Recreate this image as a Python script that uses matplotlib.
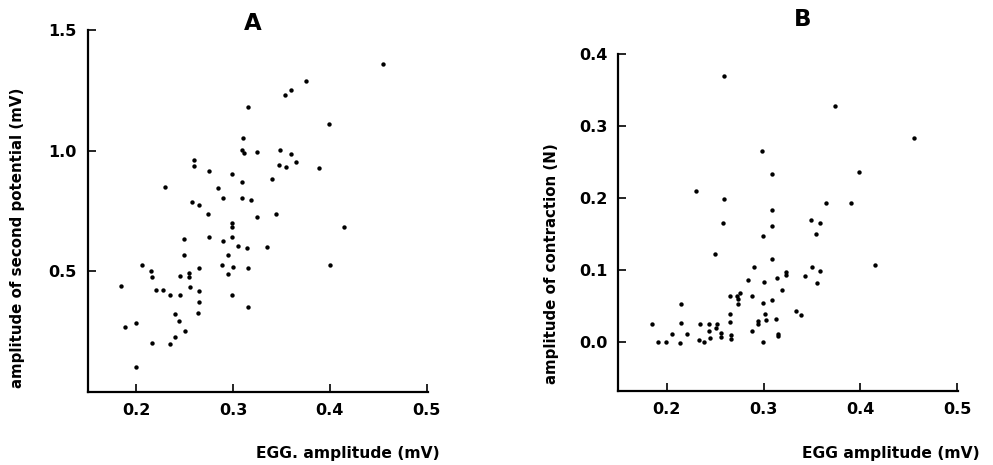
import matplotlib
matplotlib.use("Agg")
import matplotlib.pyplot as plt

# Panel A: EGG amplitude vs amplitude of second potential (mV)
egg_a = [0.455, 0.375, 0.360, 0.354, 0.315, 0.399, 0.310, 0.309, 0.311, 0.325,
         0.349, 0.360, 0.348, 0.355, 0.365, 0.389, 0.260, 0.260, 0.275, 0.299,
         0.230, 0.285, 0.309, 0.340, 0.290, 0.309, 0.319, 0.258, 0.265, 0.274,
         0.325, 0.344, 0.299, 0.299, 0.415, 0.275, 0.249, 0.299, 0.290, 0.305,
         0.314, 0.335, 0.249, 0.295, 0.206, 0.400, 0.289, 0.300, 0.265, 0.316,
         0.215, 0.216, 0.245, 0.255, 0.255, 0.295, 0.184, 0.256, 0.221, 0.228,
         0.235, 0.245, 0.265, 0.299, 0.265, 0.315, 0.240, 0.264, 0.244, 0.189,
         0.200, 0.250, 0.240, 0.216, 0.235, 0.200]
second_pot = [1.36, 1.29, 1.25, 1.23, 1.18, 1.112, 1.053, 1.004, 0.988, 0.993,
              1.004, 0.986, 0.942, 0.932, 0.952, 0.929, 0.961, 0.938, 0.914, 0.903,
              0.848, 0.845, 0.870, 0.881, 0.802, 0.802, 0.794, 0.787, 0.776, 0.735,
              0.723, 0.737, 0.700, 0.685, 0.684, 0.641, 0.633, 0.640, 0.625, 0.604,
              0.596, 0.602, 0.568, 0.568, 0.526, 0.525, 0.524, 0.519, 0.512, 0.511,
              0.501, 0.474, 0.481, 0.494, 0.476, 0.489, 0.439, 0.436, 0.420, 0.420,
              0.402, 0.402, 0.416, 0.402, 0.370, 0.353, 0.323, 0.327, 0.294, 0.267,
              0.284, 0.252, 0.226, 0.201, 0.199, 0.102]

# Panel B: EGG amplitude vs amplitude of contraction (N)
egg_b = [0.259, 0.374, 0.455, 0.298, 0.309, 0.398, 0.230, 0.259, 0.364, 0.390,
         0.309, 0.349, 0.358, 0.258, 0.309, 0.354, 0.299, 0.250, 0.309, 0.415,
         0.290, 0.350, 0.358, 0.323, 0.323, 0.314, 0.343, 0.284, 0.300, 0.355,
         0.319, 0.276, 0.273, 0.274, 0.265, 0.288, 0.309, 0.299, 0.274, 0.215,
         0.333, 0.339, 0.265, 0.301, 0.313, 0.294, 0.294, 0.302, 0.265, 0.215,
         0.185, 0.234, 0.244, 0.252, 0.251, 0.244, 0.288, 0.256, 0.256, 0.205,
         0.221, 0.315, 0.315, 0.266, 0.266, 0.245, 0.233, 0.238, 0.191, 0.199,
         0.214, 0.299]
contraction = [0.369, 0.328, 0.283, 0.265, 0.234, 0.237, 0.210, 0.199, 0.193, 0.194,
               0.183, 0.170, 0.166, 0.166, 0.161, 0.150, 0.147, 0.122, 0.116, 0.107,
               0.104, 0.104, 0.099, 0.098, 0.094, 0.090, 0.092, 0.086, 0.084, 0.083,
               0.072, 0.069, 0.064, 0.060, 0.064, 0.064, 0.059, 0.055, 0.053, 0.053,
               0.043, 0.038, 0.039, 0.040, 0.033, 0.030, 0.026, 0.031, 0.028, 0.027,
               0.025, 0.025, 0.025, 0.025, 0.020, 0.016, 0.016, 0.013, 0.007, 0.011,
               0.011, 0.012, 0.009, 0.010, 0.005, 0.006, 0.003, 0.001, 0.000, 0.000,
               -0.001, 0.000]

x_ticks = [0.2, 0.3, 0.4, 0.5]
x_tick_labels = ["0.2", "0.3", "0.4", "0.5"]
a_y_ticks = [0.5, 1.0, 1.5]
a_y_tick_labels = ["0.5", "1.0", "1.5"]
b_y_ticks = [0.0, 0.1, 0.2, 0.3, 0.4]
b_y_tick_labels = ["0.0", "0.1", "0.2", "0.3", "0.4"]

plt.rcParams['font.family'] = ['DejaVu Sans']
W, H = 993, 465
fig = plt.figure(figsize=(W / 100, H / 100), dpi=100)


def frac_box(left, top, right, bottom):
    return [left / W, 1 - bottom / H, (right - left) / W, (bottom - top) / H]


def style(ax, xlim, ylim, yticks, ylabels):
    ax.set_xlim(*xlim)
    ax.set_ylim(*ylim)
    for side in ("top", "right"):
        ax.spines[side].set_visible(False)
    for side in ("left", "bottom"):
        ax.spines[side].set_linewidth(1.6)
        ax.spines[side].set_color("black")
    ax.set_xticks(x_ticks)
    ax.set_xticklabels(x_tick_labels)
    ax.set_yticks(yticks)
    ax.set_yticklabels(ylabels)
    ax.tick_params(direction="in", length=6, width=1.2, labelsize=11.5, pad=8)
    for lab in ax.get_xticklabels() + ax.get_yticklabels():
        lab.set_fontweight("bold")


# Panel A
ax_a = fig.add_axes(frac_box(87.7, 30.0, 427.7, 391.7))
ax_a.scatter(egg_a, second_pot, s=10, color="black", linewidths=0)
style(ax_a, (0.15, 0.501), (0.0, 1.5), a_y_ticks, a_y_tick_labels)
fig.text(253 / W, 1 - 23 / H, "A", ha="center", va="center",
         fontsize=16.5, fontweight="bold")
fig.text(18 / W, 1 - 238 / H, "amplitude of second potential (mV)",
         rotation=90, ha="center", va="center", fontsize=10.8,
         fontweight="bold")
fig.text(440 / W, 1 - 453 / H, "EGG. amplitude (mV)", ha="right",
         va="center", fontsize=11.2, fontweight="bold")

# Panel B
ax_b = fig.add_axes(frac_box(618.3, 54.0, 958.3, 390.7))
ax_b.scatter(egg_b, contraction, s=10, color="black", linewidths=0)
style(ax_b, (0.15, 0.501), (-0.067, 0.4), b_y_ticks, b_y_tick_labels)
fig.text(803 / W, 1 - 20 / H, "B", ha="center", va="center",
         fontsize=16.5, fontweight="bold")
fig.text(551.7 / W, 1 - 264 / H, "amplitude of contraction (N)",
         rotation=90, ha="center", va="center", fontsize=10.8,
         fontweight="bold")
fig.text(980 / W, 1 - 453 / H, "EGG amplitude (mV)", ha="right",
         va="center", fontsize=11.2, fontweight="bold")

fig.savefig("out.png", dpi=100)
